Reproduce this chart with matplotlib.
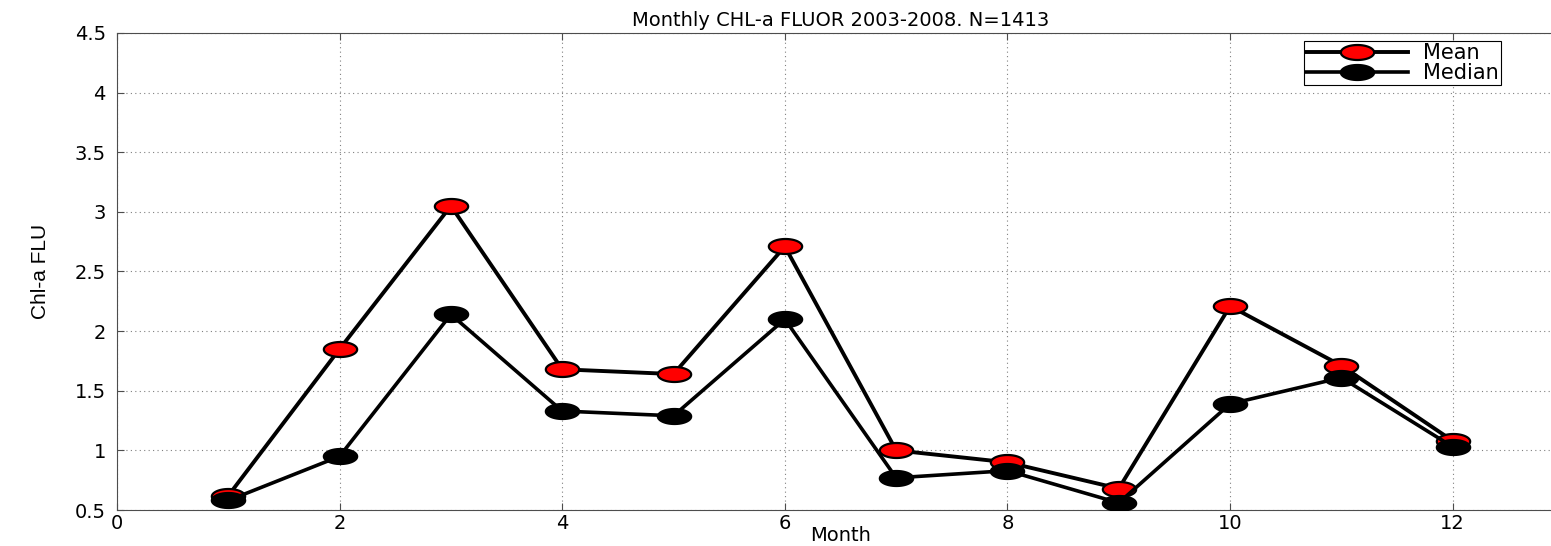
import numpy as np
import matplotlib.pyplot as plt
from matplotlib.path import Path

months = [1, 2, 3, 4, 5, 6, 7, 8, 9, 10, 11, 12]
chl_mean = [0.62, 1.85, 3.05, 1.68, 1.64, 2.71, 1.00, 0.90, 0.68, 2.21, 1.71, 1.08]
chl_median = [0.58, 0.95, 2.14, 1.33, 1.29, 2.10, 0.77, 0.83, 0.56, 1.39, 1.61, 1.03]

# wide font, the original picture was stretched sideways
plt.rcParams['font.family'] = ['DejaVu Sans']

# squashed circle for the same reason
t = np.linspace(0, 2 * np.pi, 60)
oval = Path(np.column_stack([np.cos(t), 0.45 * np.sin(t)]), closed=True)

fig = plt.figure(figsize=(15.51, 5.46), dpi=100)
ax = fig.add_axes([0.0754, 0.0659, 0.933, 0.8737])

ax.plot(months, chl_mean, color='k', lw=2.8, marker=oval, ms=24,
        mfc='red', mec='k', mew=1.6, label='Mean', zorder=3)
ax.plot(months, chl_median, color='k', lw=2.6, marker=oval, ms=24,
        mfc='k', mec='k', mew=1.6, label='Median', zorder=3)

ax.set_xlim(0, 13)
ax.set_ylim(0.5, 4.5)
ax.set_xticks(np.arange(0, 13, 2))
ax.set_yticks(np.arange(0.5, 4.51, 0.5))
ax.set_yticklabels(['0.5', '1', '1.5', '2', '2.5', '3', '3.5', '4', '4.5'])
ax.grid(True, ls=(0, (1, 3)), color='0.5', lw=0.8)
ax.tick_params(direction='in', length=5, top=True, right=True,
               labelsize=14, color='0.3')
ax.tick_params(axis='y', pad=8)
ax.tick_params(axis='x', pad=3)
for s in ax.spines.values():
    s.set_color('0.3')

ax.set_title('Monthly CHL-a FLUOR 2003-2008. N=1413', fontsize=14, pad=5)
ax.set_xlabel('Month', fontsize=14, labelpad=-5)
ax.set_ylabel('Chl-a FLU', fontsize=15, labelpad=18,
              family=['Liberation Sans Narrow', 'Liberation Sans'])

leg = ax.legend(loc='upper left', bbox_to_anchor=(0.82, 0.983),
                borderaxespad=0, fontsize=15, handlelength=4.9,
                labelspacing=0.0, borderpad=0.1, handletextpad=0.75,
                fancybox=False, framealpha=1)
leg.get_frame().set_edgecolor('k')
leg.get_frame().set_linewidth(0.8)

fig.savefig('out.png', dpi=100)
